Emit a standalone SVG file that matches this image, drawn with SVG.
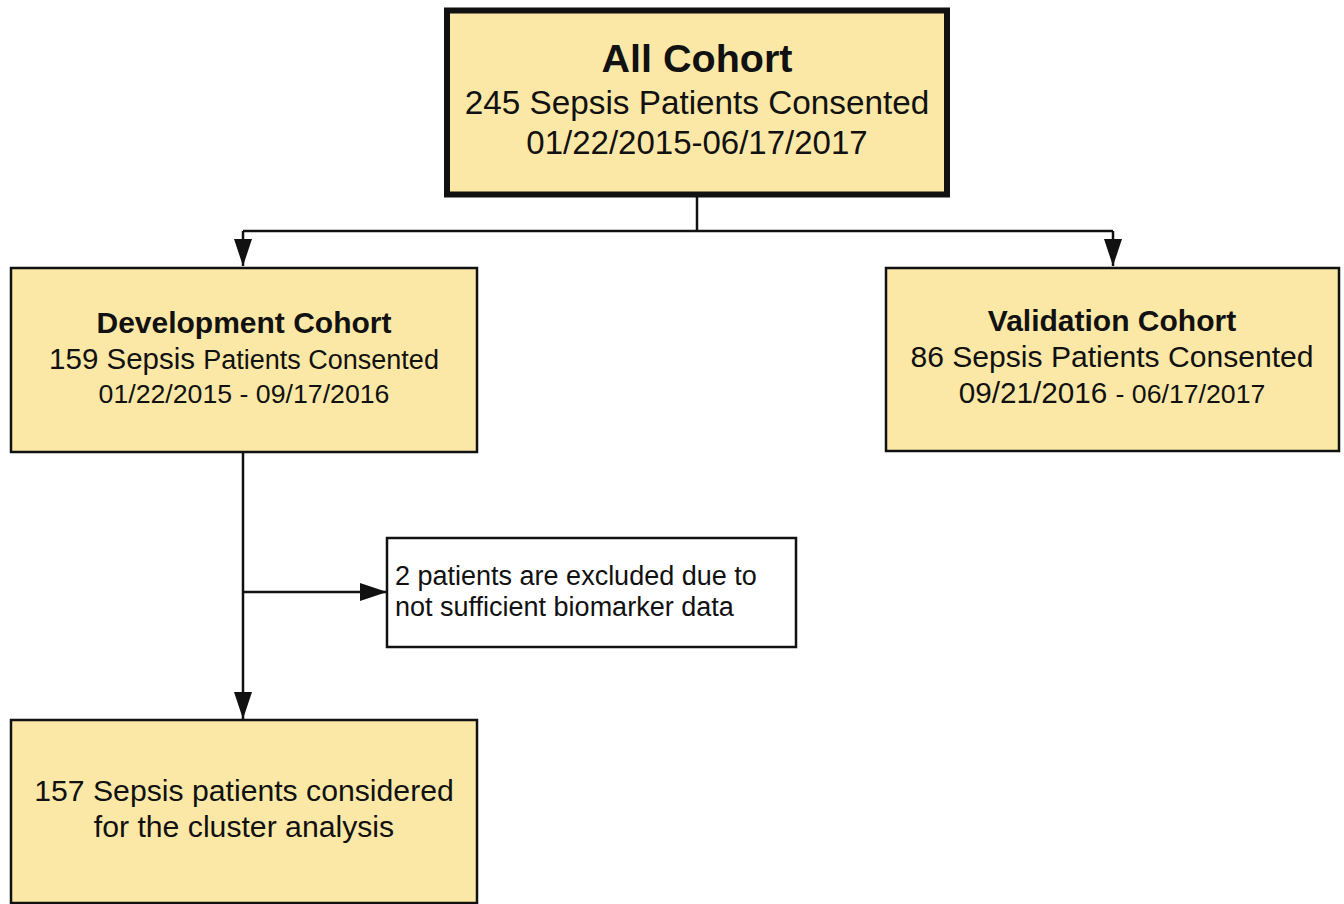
<svg xmlns="http://www.w3.org/2000/svg" width="1344" height="904" viewBox="0 0 1344 904">
<defs>
<style>
.box{fill:#fbe8a6;stroke:#111;stroke-width:2.5}
.wbox{fill:#fff;stroke:#111;stroke-width:2.5}
.t{font-family:"Liberation Sans",Arial,sans-serif;fill:#111;text-anchor:middle}
.b{font-weight:bold}
.l{font-family:"Liberation Sans",Arial,sans-serif;fill:#111}
.c{fill:none;stroke:#111;stroke-width:2.5}
</style>
<marker id="ah" markerUnits="userSpaceOnUse" markerWidth="28" markerHeight="20" refX="27" refY="9" orient="auto" viewBox="0 0 28 18">
<path d="M0,0 L27,9 L0,18 Z" fill="#111"/>
</marker>
</defs>
<rect width="1344" height="904" fill="#fff"/>
<g id="connectors">
<path class="c" d="M697,197 V231"/>
<path class="c" d="M243,231 H1113"/>
<path class="c" d="M243,231 V266" marker-end="url(#ah)"/>
<path class="c" d="M1113,231 V266" marker-end="url(#ah)"/>
<path class="c" d="M243,452 V719" marker-end="url(#ah)"/>
<path class="c" d="M243,592 H387" marker-end="url(#ah)"/>
</g>
<g id="all-cohort">
<rect x="447" y="10.5" width="500" height="184" fill="#fbe8a6" stroke="#111" stroke-width="6"/>
<text class="t b" x="697" y="72" font-size="39.5">All Cohort</text>
<text class="t" x="697" y="114" font-size="33.3">245 Sepsis Patients Consented</text>
<text class="t" x="697" y="154" font-size="33">01/22/2015-06/17/2017</text>
</g>
<g id="development-cohort">
<rect class="box" x="11" y="268" width="466" height="184"/>
<text class="t b" x="244" y="333" font-size="30">Development Cohort</text>
<text class="t" x="244" y="369"><tspan font-size="29.5">159 Sepsis </tspan><tspan font-size="27">Patients Consented</tspan></text>
<text class="t" x="244" y="403" font-size="26.7">01/22/2015 - 09/17/2016</text>
</g>
<g id="validation-cohort">
<rect class="box" x="886" y="268" width="453" height="183"/>
<text class="t b" x="1112" y="331" font-size="30">Validation Cohort</text>
<text class="t" x="1112" y="367" font-size="30.1">86 Sepsis Patients Consented</text>
<text class="t" x="1112" y="403"><tspan font-size="29.7">09/21/2016 </tspan><tspan font-size="26.7">- 06/17/2017</tspan></text>
</g>
<g id="exclusion">
<rect class="wbox" x="387" y="538" width="409" height="109"/>
<text class="l" x="395" y="585" font-size="27">2 patients are excluded due to</text>
<text class="l" x="395" y="616" font-size="27">not sufficient biomarker data</text>
</g>
<g id="cluster-analysis">
<rect class="box" x="11" y="720" width="466" height="183"/>
<text class="t" x="244" y="801" font-size="30.2">157 Sepsis patients considered</text>
<text class="t" x="244" y="837" font-size="30.2">for the cluster analysis</text>
</g>
</svg>
